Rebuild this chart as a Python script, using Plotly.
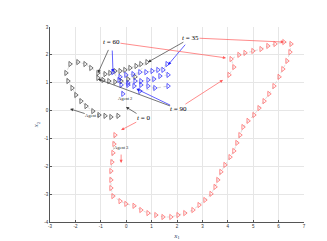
import plotly.graph_objects as go

x_ticks = [-3, -2, -1, 0, 1, 2, 3, 4, 5, 6, 7]
y_ticks = [-4, -3, -2, -1, 0, 1, 2, 3]

agent1_x = [-0.32, -0.60, -0.83, -1.07, -1.31, -1.58, -1.78, -1.98, -2.13, -2.29, -2.37, -2.21,
            -1.90, -1.62, -1.39, -1.11, -0.83, -0.64, -0.44, -0.24, -0.05, 0.15, 0.39, 0.58, 0.82,
            0.35, 0.07, -0.20, -0.44, -0.68, -0.91, -1.11]
agent1_y = [-0.19, -0.23, -0.19, -0.16, -0.02, 0.16, 0.34, 0.56, 0.81, 1.06, 1.35, 1.67,
            1.74, 1.67, 1.53, 1.35, 1.31, 1.35, 1.42, 1.42, 1.46, 1.53, 1.60, 1.67, 1.74,
            1.21, 1.13, 1.06, 1.03, 1.06, 1.10, 1.17]

agent2_x = [-0.13, -0.20, 0.07, 0.35, 0.58, 0.86, 1.09, 1.33, 1.65, 1.45, 1.61, 1.25, 1.02, 0.78,
            0.54, 0.27, -0.01, -0.24, -0.52, -0.28, 0.07, 0.31, 0.58, 0.86, 1.13, 1.65, 0.54]
agent2_y = [0.60, 0.92, 0.99, 1.06, 1.06, 1.10, 1.13, 1.24, 1.28, 1.46, 1.67, 1.46, 1.42, 1.38,
            1.38, 1.31, 1.28, 1.21, 1.38, 1.10, 0.92, 0.88, 0.92, 0.88, 0.81, 0.88, 0.70]

agent3_x = [-0.44, -0.48, -0.52, -0.56, -0.60, -0.60, -0.60, -0.52, -0.24, -0.01, 0.31, 0.58,
            0.86, 1.17, 1.45, 1.76, 2.04, 2.31, 2.63, 2.87, 3.10, 3.34, 3.50, 3.61, 3.73, 3.89,
            4.09, 4.24, 4.36, 4.48, 4.60, 4.80, 5.03, 5.23, 5.43, 5.62, 5.82, 6.02, 6.17, 6.33,
            6.45, 6.49, 6.21, 5.86, 5.58, 5.31, 4.99, 4.68, 4.44, 4.13, 4.24, 4.05]
agent3_y = [-0.88, -1.20, -1.52, -1.85, -2.17, -2.49, -2.78, -3.07, -3.25, -3.35, -3.42, -3.57,
            -3.68, -3.75, -3.82, -3.82, -3.75, -3.68, -3.57, -3.39, -3.21, -2.99, -2.74, -2.49,
            -2.20, -1.95, -1.67, -1.45, -1.16, -0.88, -0.59, -0.37, -0.16, 0.09, 0.34, 0.60,
            0.88, 1.21, 1.49, 1.78, 2.10, 2.39, 2.46, 2.39, 2.32, 2.21, 2.14, 2.07, 2.00, 1.85,
            1.56, 1.28]

time_labels = ["<i>t</i> = 0", "<i>t</i> = 35", "<i>t</i> = 60", "<i>t</i> = 90"]
time_label_x = [0.70, 2.55, -0.56, 2.04]
time_label_y = [-0.27, 2.61, 2.46, 0.06]
agent1_at_x = [-0.01, 0.86, -1.11, -1.11]
agent1_at_y = [0.13, 1.74, 1.35, 1.13]
agent2_at_x = [None, 1.65, -0.52, 0.40]
agent2_at_y = [None, 1.64, 1.38, 0.78]
agent3_at_x = [-0.20, 6.21, 3.93, 3.81]
agent3_at_y = [-0.70, 2.46, 1.89, 1.10]

agent_names = ["Agent 1", "Agent 2", "Agent 3"]
agent_label_x = [-1.35, -0.05, -0.20]
agent_label_y = [-0.19, 0.45, -1.31]
agent_arrow_x = [-2.21, None, -0.20]
agent_arrow_y = [0.06, None, -1.88]

colors = ["#3a3a3a", "#1f1fff", "#ff5a5a"]
line_color = "#cfcfcf"

fig = go.Figure()
for xs, ys, c in [(agent1_x, agent1_y, colors[0]), (agent2_x, agent2_y, colors[1]),
                  (agent3_x, agent3_y, colors[2])]:
    fig.add_trace(go.Scatter(
        x=xs, y=ys, mode="lines+markers",
        line=dict(color=line_color, width=0.7, dash="dot"),
        marker=dict(symbol="triangle-right-open", size=4.5, color=c, line=dict(width=0.7, color=c)),
        showlegend=False, hoverinfo="skip"))

serif = "Liberation Serif, DejaVu Serif, serif"
annotations = []
for i, lbl in enumerate(time_labels):
    targets = [(agent1_at_x[i], agent1_at_y[i], colors[0]),
               (agent2_at_x[i], agent2_at_y[i], colors[1]),
               (agent3_at_x[i], agent3_at_y[i], colors[2])]
    annotations.append(dict(x=time_label_x[i], y=time_label_y[i], xref="x", yref="y",
                            text=lbl, showarrow=False,
                            font=dict(family=serif, size=7, color="black")))
    for tx, ty, c in targets:
        if tx is None:
            continue
        annotations.append(dict(
            x=tx, y=ty, xref="x", yref="y", ax=time_label_x[i], ay=time_label_y[i],
            axref="x", ayref="y", text="", showarrow=True, startstandoff=7,
            arrowcolor=c, arrowhead=2, arrowsize=0.9, arrowwidth=0.7, standoff=0))

for i, name in enumerate(agent_names):
    annotations.append(dict(x=agent_label_x[i], y=agent_label_y[i], xref="x", yref="y",
                            text=name, showarrow=False,
                            font=dict(family=serif, size=4.5, color="#222")))
    if agent_arrow_x[i] is not None:
        annotations.append(dict(
            x=agent_arrow_x[i], y=agent_arrow_y[i], xref="x", yref="y",
            ax=agent_label_x[i], ay=agent_label_y[i], axref="x", ayref="y",
            text="", showarrow=True, startstandoff=6,
            arrowcolor=colors[0] if i == 0 else colors[2], arrowhead=2, arrowsize=0.9,
            arrowwidth=0.7))

axis_common = dict(showgrid=True, gridcolor="#e6e6e6", gridwidth=0.6, zeroline=False,
                   showline=True, linecolor="#555", linewidth=0.6, mirror=False,
                   ticks="inside", ticklen=2, tickcolor="#555",
                   tickfont=dict(family="Liberation Sans, Arial", size=4.5, color="#333"))

fig.update_layout(
    width=327, height=241,
    margin=dict(l=42, r=31, t=19, b=27),
    paper_bgcolor="white", plot_bgcolor="white",
    xaxis=dict(range=[-3, 7], tickvals=x_ticks, ticktext=[str(v) for v in x_ticks],
               title=dict(text="<i>x</i><sub>1</sub>", font=dict(family=serif, size=7), standoff=4),
               **axis_common),
    yaxis=dict(range=[-4, 3], tickvals=y_ticks, ticktext=[str(v) for v in y_ticks],
               title=dict(text="<i>x</i><sub>2</sub>", font=dict(family=serif, size=7), standoff=4),
               **axis_common),
    annotations=annotations,
)

fig.write_html("out.html")
